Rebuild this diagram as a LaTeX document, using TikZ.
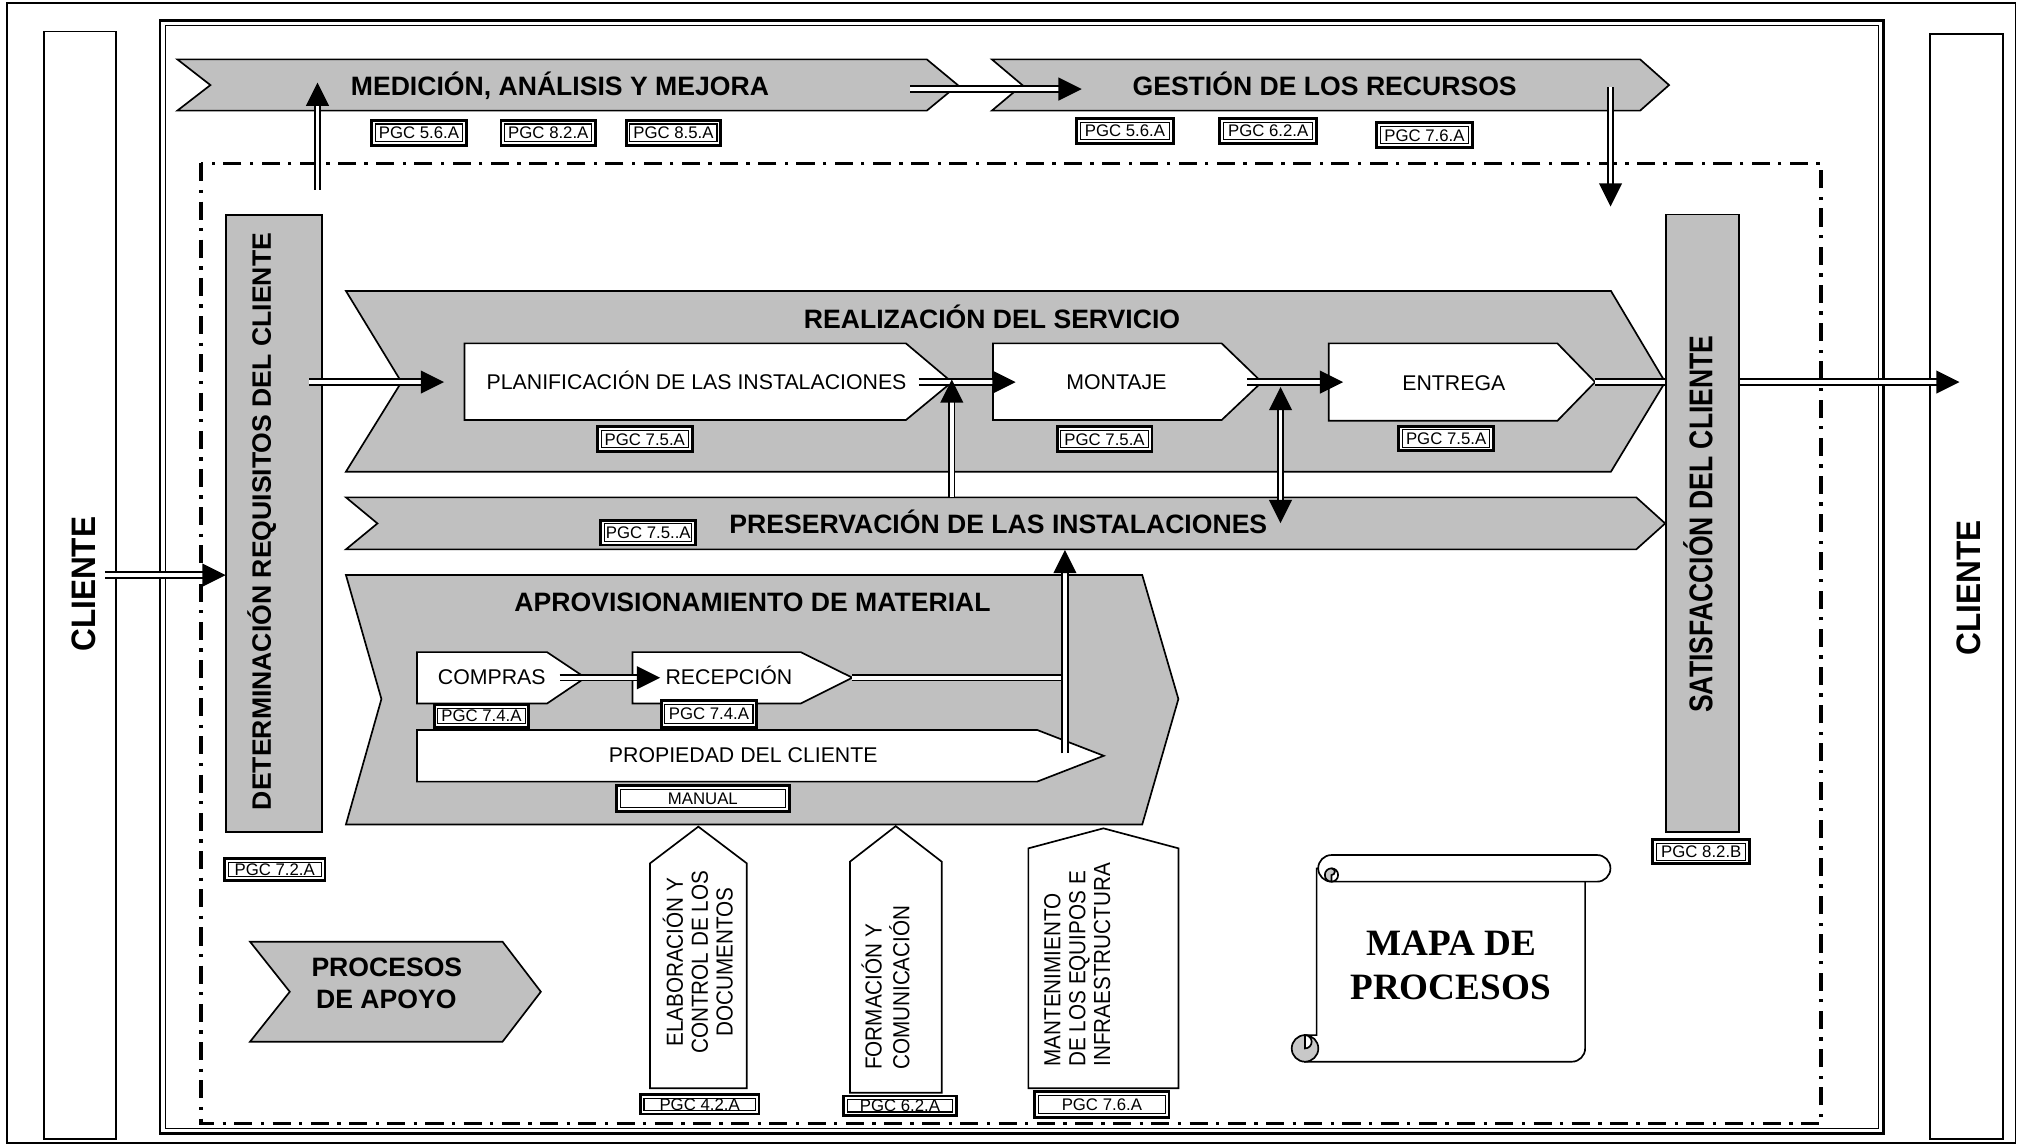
\documentclass[tikz,border=0pt]{standalone}
\usepackage{fontspec}
\setmainfont{Liberation Sans}
\newfontfamily\timesfam{Liberation Serif}
\usepackage{graphicx}
\usetikzlibrary{calc}
\definecolor{fillgray}{RGB}{192,192,192}
\definecolor{curlgray}{RGB}{200,200,200}
\newcommand{\fsz}[2]{\fontsize{#1}{#2}\selectfont}
\newcommand{\ahead}[2]{\fill[black] (#2) -- ($(#2)!18pt!(#1)!9pt!90:(#2)$) -- ($(#2)!18pt!(#1)!9pt!-90:(#2)$) -- cycle;}
\newcommand{\dblarrow}[2]{\draw[dbl] (#1) -- ($(#2)!17pt!(#1)$); \ahead{#1}{#2}}
\newcommand{\dbltwo}[2]{\draw[dbl] ($(#1)!17pt!(#2)$) -- ($(#2)!17pt!(#1)$); \ahead{#2}{#1}\ahead{#1}{#2}}
\begin{document}
\begin{tikzpicture}[x=1pt,y=-1pt,
  shp/.style={draw=black,line width=1.3pt,line join=miter},
  grayshp/.style={shp,fill=fillgray},
  whiteshp/.style={shp,fill=white},
  dbl/.style={draw=black,double=white,double distance=2.8pt,line width=1.4pt},
  pgc/.style={draw,fill=white,line width=2.2pt,inner sep=0pt,outer sep=0pt,text height=9.3pt,text depth=0pt,font=\fsz{13}{15},
     path picture={\draw[line width=0.8pt] ([shift={(2.9pt,2.9pt)}]path picture bounding box.south west) rectangle ([shift={(-2.9pt,-2.9pt)}]path picture bounding box.north east);}},
  bigt/.style={font=\fsz{20.6}{24}\bfseries,inner sep=0pt,anchor=base},
  regt/.style={font=\fsz{16.5}{19},inner sep=0pt,anchor=base},
  tallbox/.style={draw=black,line width=1.3pt,inner sep=0pt,outer sep=0pt},
  rott/.style={rotate=90,anchor=base,inner sep=0pt},
  supt/.style={rotate=90,inner sep=0pt,font=\fsz{18}{19.3}},
]
\useasboundingbox (0,0) rectangle (1568,887);
% outer frame
\draw[line width=1.2pt] (5.5,2.2) rectangle (1561.5,885.3);
% client boxes
\node[tallbox,minimum width=56pt,minimum height=858pt] (cliL) at (62.1,453.4) {};
\node[tallbox,minimum width=57pt,minimum height=856pt] (cliR) at (1523.4,454.4) {};
\node[rott,font=\fsz{26.3}{30}\bfseries] (cliLt) at (73.6,452.6) {\scalebox{0.93}[1]{CLIENTE}};
\node[rott,font=\fsz{26.3}{30}\bfseries] (cliRt) at (1534.3,455.6) {\scalebox{0.93}[1]{CLIENTE}};
% double frame
\draw[line width=2pt] (124,15.8) rectangle (1459.3,878.2);
\draw[line width=1.1pt] (128.3,19.9) rectangle (1455.2,874.2);
% dash-dot frame
\draw[line width=2.6pt,dash pattern=on 14pt off 6.5pt on 2.6pt off 6.5pt] (155.8,126.5) rectangle (1410.8,870.3);

% top chevrons
\draw[grayshp] (137.4,46) -- (718,46) -- (742,65.9) -- (718,85.7) -- (137.4,85.7) -- (163,65.9) -- cycle;
\draw[grayshp] (768.4,46) -- (1270.6,46) -- (1293,65.9) -- (1270.6,85.7) -- (768.4,85.7) -- (792,65.9) -- cycle;
\node[bigt] (med) at (433.8,73.6) {MEDICIÓN, ANÁLISIS Y MEJORA};
\node[bigt] (ges) at (1026.2,73.6) {GESTIÓN DE LOS RECURSOS};

% side boxes
\node[tallbox,fill=fillgray,minimum width=74.4pt,minimum height=478pt] (det) at (212.15,405.4) {};
\node[rott,font=\fsz{20.6}{23}\bfseries] (dett) at (209.9,404) {DETERMINACIÓN REQUISITOS DEL CLIENTE};
\node[tallbox,fill=fillgray,minimum width=56.7pt,minimum height=478.6pt] (sat) at (1319,405.5) {};
\node[rott,font=\fsz{25.5}{28}\bfseries] (satt) at (1326.6,406) {\scalebox{0.807}[1]{SATISFACCIÓN DEL CLIENTE}};

% realizacion
\draw[grayshp] (268,225.4) -- (1248,225.4) -- (1290,296) -- (1248,365.4) -- (268,365.4) -- (311,296) -- cycle;
\node[bigt] (real) at (768.5,254.4) {REALIZACIÓN DEL SERVICIO};
\draw[whiteshp] (359.8,266) -- (701.8,266) -- (737.4,296) -- (701.8,325.4) -- (359.8,325.4) -- cycle;
\draw[whiteshp] (769.3,266) -- (946.4,266) -- (977.5,296) -- (946.4,325.4) -- (769.3,325.4) -- cycle;
\draw[whiteshp] (1029.4,266) -- (1206.5,266) -- (1235.7,296) -- (1206.5,326) -- (1029.4,326) -- cycle;
\node[regt] (plan) at (539.6,301.9) {PLANIFICACIÓN DE LAS INSTALACIONES};
\node[regt] (mont) at (864.9,301.9) {MONTAJE};
\node[regt] (entr) at (1126.3,302.3) {ENTREGA};

% preservacion
\draw[grayshp] (268,385.3) -- (1267.6,385.3) -- (1290,405.5) -- (1267.6,425.6) -- (268,425.6) -- (292.4,405.5) -- cycle;
\node[bigt] (pres) at (773.4,413) {PRESERVACIÓN DE LAS INSTALACIONES};

% aprovisionamiento
\draw[grayshp] (268,445.5) -- (884.9,445.5) -- (912.9,541.5) -- (884.9,638.7) -- (268,638.7) -- (295.5,541.5) -- cycle;
\node[bigt] (aprov) at (583,474) {APROVISIONAMIENTO DE MATERIAL};
\draw[whiteshp] (323,505.2) -- (423.8,505.2) -- (453.5,525) -- (423.8,545) -- (323,545) -- cycle;
\draw[whiteshp] (490,505.2) -- (620.3,505.2) -- (660.3,525) -- (620.3,545) -- (490,545) -- cycle;
\draw[whiteshp] (323,565.5) -- (803.5,565.5) -- (855.1,585.5) -- (803.5,605.5) -- (323,605.5) -- cycle;
\node[regt] (comp) at (381,530.6) {COMPRAS};
\node[regt] (recep) at (564.7,530.6) {RECEPCIÓN};
\node[regt] (prop) at (575.8,590.8) {PROPIEDAD DEL CLIENTE};

% procesos de apoyo
\draw[grayshp] (193.7,729.5) -- (389.3,729.5) -- (419,768.3) -- (389.3,807) -- (193.7,807) -- (224.5,768.3) -- cycle;
\node[bigt] (apo1) at (299.7,756.6) {PROCESOS};
\node[bigt] (apo2) at (299.3,781) {DE APOYO};

% support boxes
\draw[whiteshp] (503.6,843.1) -- (503.6,668.8) -- (541,640.4) -- (578.5,668.8) -- (578.5,843.1) -- cycle;
\draw[whiteshp] (658.5,846.5) -- (658.5,667.5) -- (693.9,640) -- (729.5,667.5) -- (729.5,846.5) -- cycle;
\draw[whiteshp] (796.7,843.1) -- (796.7,657.2) -- (854.8,641.7) -- (913,657.2) -- (913,843.1) -- cycle;
\node[supt] (elab) at (543.4,745.5) {\scalebox{0.89}[1]{\begin{tabular}{@{}c@{}}ELABORACIÓN Y\\CONTROL DE LOS\\DOCUMENTOS\end{tabular}}};
\node[supt,anchor=west] (form) at (688.8,829) {\scalebox{0.89}[1]{\begin{tabular}{@{}l@{}}FORMACIÓN Y\\COMUNICACIÓN\end{tabular}}};
\node[supt,anchor=west] (mant) at (836.9,826.4) {\scalebox{0.89}[1]{\begin{tabular}{@{}l@{}}MANTENIMIENTO\\DE LOS EQUIPOS E\\INFRAESTRUCTURA\end{tabular}}};

% scroll
\filldraw[shp,fill=white] (1020,672.7) -- (1228,672.7) -- (1228,812.2) arc (0:90:10.3) -- (1011,822.5) -- (1011,801.9) -- (1020,801.9) -- cycle;
\filldraw[shp,fill=curlgray] (1011,812.2) circle (10.3);
\filldraw[shp,fill=white] (1011,801.9) arc (270:450:5.15) -- cycle;
\filldraw[shp,fill=white] (1031.5,662.4) -- (1237.3,662.4) arc (270:450:10.3) -- (1031.5,683) arc (90:270:10.3) -- cycle;
\filldraw[shp,fill=curlgray] (1031.5,683) arc (90:270:5.15) arc (270:450:2.6) -- cycle;
\draw[shp] (1031.5,672.7) arc (270:450:5.15);
\node[font=\timesfam\fsz{28.8}{33}\bfseries,inner sep=0pt,anchor=base] (mapa1) at (1124.6,739.9) {MAPA DE};
\node[font=\timesfam\fsz{28.8}{33}\bfseries,inner sep=0pt,anchor=base] (mapa2) at (1123.7,774.2) {PROCESOS};

% PGC labels
\node[pgc,minimum width=73.3pt,minimum height=19.7pt] (pm1) at (324.6,103) {PGC 5.6.A};
\node[pgc,minimum width=73.3pt,minimum height=19.7pt] (pm2) at (424.8,103) {PGC 8.2.A};
\node[pgc,minimum width=73.3pt,minimum height=19.7pt] (pm3) at (521.7,103) {PGC 8.5.A};
\node[pgc,minimum width=75pt,minimum height=19.1pt] (pg1) at (871.5,101.3) {PGC 5.6.A};
\node[pgc,minimum width=75pt,minimum height=19.1pt] (pg2) at (982.5,101.3) {PGC 6.2.A};
\node[pgc,minimum width=74.4pt,minimum height=19.1pt] (pg3) at (1103.5,104.6) {PGC 7.6.A};
\node[pgc,minimum width=73.5pt,minimum height=19.1pt] (ppl) at (499.5,340.1) {PGC 7.5.A};
\node[pgc,minimum width=73.5pt,minimum height=19.1pt] (pmo) at (855.7,340.1) {PGC 7.5.A};
\node[pgc,minimum width=73.5pt,minimum height=19.1pt] (pen) at (1120.3,339.7) {PGC 7.5.A};
\node[pgc,minimum width=73.5pt,minimum height=19.2pt] (ppr) at (502.2,412.6) {PGC 7.5..A};
\node[pgc,minimum width=73.4pt,minimum height=17.8pt] (pco) at (373,554.6) {PGC 7.4.A};
\node[pgc,minimum width=74.1pt,minimum height=21pt] (pre) at (549.2,553) {PGC 7.4.A};
\node[pgc,minimum width=134pt,minimum height=20pt] (pma) at (544.5,618.8) {MANUAL};
\node[pgc,minimum width=78pt,minimum height=17.3pt] (pde) at (212.8,673.6) {PGC 7.2.A};
\node[pgc,minimum width=75pt,minimum height=18.7pt] (psa) at (1318,659.9) {PGC 8.2.B};
\node[pgc,minimum width=92pt,minimum height=15.3pt] (p42) at (542,855.4) {PGC 4.2.A};
\node[pgc,minimum width=87.3pt,minimum height=15.3pt] (p62) at (697.2,856.7) {PGC 6.2.A};
\node[pgc,minimum width=104pt,minimum height=20pt] (p76) at (853.6,855.7) {PGC 7.6.A};

% connector end points
\coordinate (a1s) at (246,147); \coordinate (a1t) at (246,64);
\coordinate (a2s) at (705,69); \coordinate (a2t) at (838,69);
\coordinate (a3s) at (1247.7,67.6); \coordinate (a3t) at (1247.7,160);
\coordinate (a4s) at (81.3,445.5); \coordinate (a4t) at (174.8,445.5);
\coordinate (a5s) at (239.7,296); \coordinate (a5t) at (344,296);
\coordinate (a6s) at (711.7,296); \coordinate (a6t) at (786.8,296);
\coordinate (a7s) at (966.3,296); \coordinate (a7t) at (1040.5,296);
\coordinate (a8s) at (1235.7,296); \coordinate (a8t) at (1290,296);
\coordinate (a9s) at (1348,296); \coordinate (a9t) at (1518,296);
\coordinate (a10s) at (737.4,385.3); \coordinate (a10t) at (737.4,294);
\coordinate (a11a) at (992,299.8); \coordinate (a11b) at (992,405.2);
\coordinate (a12s) at (433.5,525); \coordinate (a12t) at (511.4,525);
\coordinate (a13s) at (660.3,525); \coordinate (a13t) at (826.4,525);
\coordinate (a14s) at (825,583.6); \coordinate (a14t) at (825,426);

% connectors
\dblarrow{a1s}{a1t}
\dblarrow{a2s}{a2t}
\dblarrow{a3s}{a3t}
\dblarrow{a4s}{a4t}
\dblarrow{a5s}{a5t}
\dblarrow{a6s}{a6t}
\dblarrow{a7s}{a7t}
\draw[dbl] (a8s) -- (a8t);
\dblarrow{a9s}{a9t}
\dblarrow{a10s}{a10t}
\dbltwo{a11a}{a11b}
\dblarrow{a12s}{a12t}
\draw[dbl] (a13s) -- (a13t);
\dblarrow{a14s}{a14t}
\end{tikzpicture}
\end{document}
